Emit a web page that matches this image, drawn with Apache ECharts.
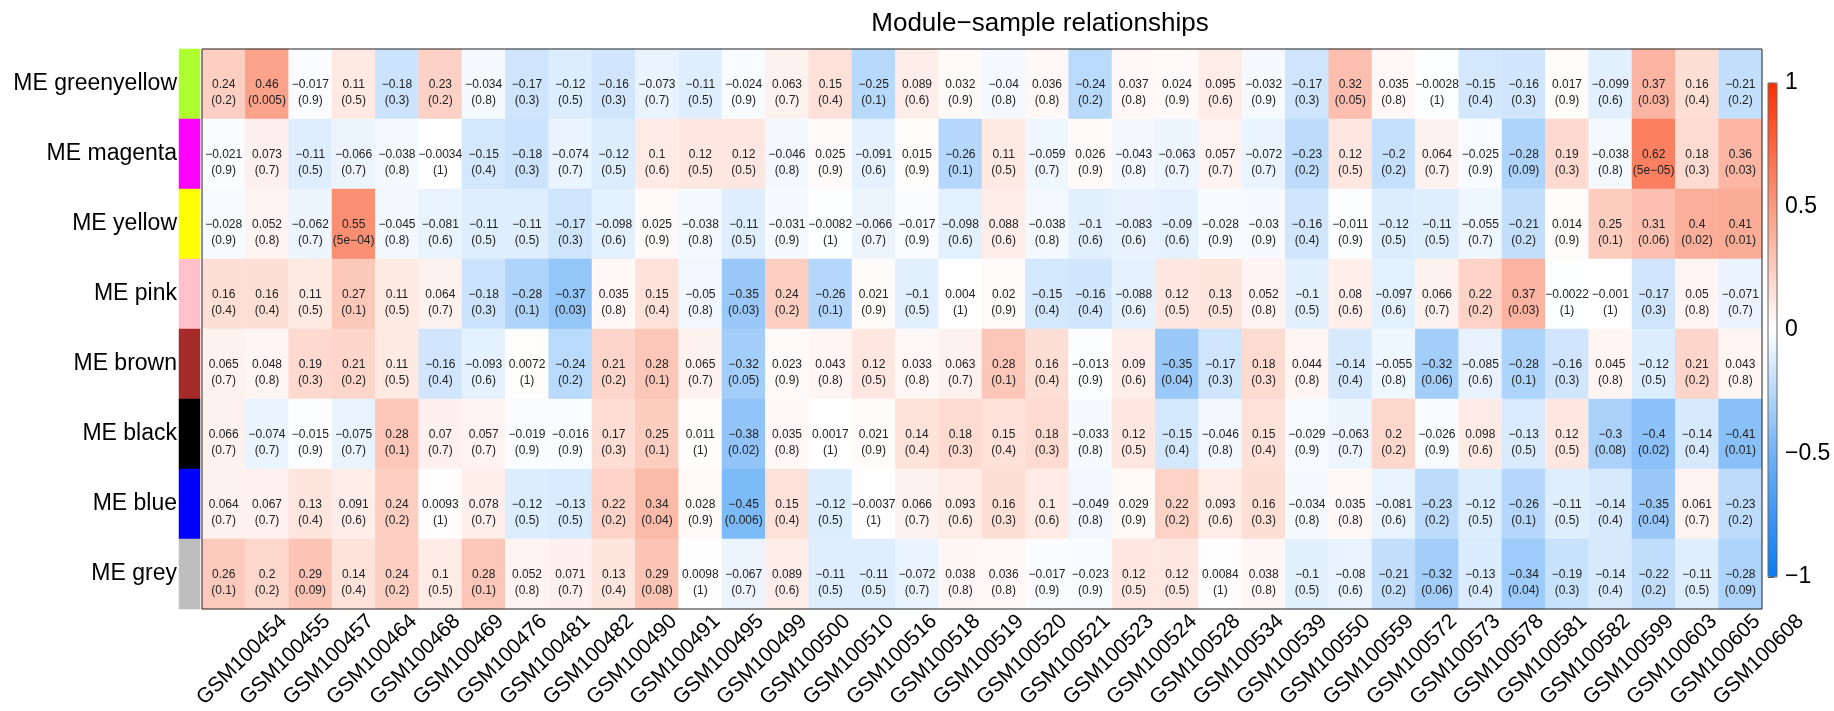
<!DOCTYPE html>
<html>
<head>
<meta charset="utf-8">
<script src="https://cdn.jsdelivr.net/npm/echarts@6/dist/echarts.min.js"></script>
<style>
html,body{margin:0;padding:0;background:#fff;}
#chart{width:1834px;height:711px;}
</style>
</head>
<body>
<div id="chart"></div>
<script>
const samples = ['GSM100454','GSM100455','GSM100457','GSM100464','GSM100468','GSM100469','GSM100476','GSM100481','GSM100482','GSM100490','GSM100491','GSM100495','GSM100499','GSM100500','GSM100510','GSM100516','GSM100518','GSM100519','GSM100520','GSM100521','GSM100523','GSM100524','GSM100528','GSM100534','GSM100539','GSM100550','GSM100559','GSM100572','GSM100573','GSM100578','GSM100581','GSM100582','GSM100599','GSM100603','GSM100605','GSM100608'];
const modules = ['ME greenyellow','ME magenta','ME yellow','ME pink','ME brown','ME black','ME blue','ME grey'];
const moduleColors = ['#ADFF2F','#FF00FF','#FFFF00','#FFC0CB','#A52A2A','#000000','#0000FF','#BEBEBE'];

const corGreenyellow = [0.24,0.46,-0.017,0.11,-0.18,0.23,-0.034,-0.17,-0.12,-0.16,-0.073,-0.11,-0.024,0.063,0.15,-0.25,0.089,0.032,-0.04,0.036,-0.24,0.037,0.024,0.095,-0.032,-0.17,0.32,0.035,-0.0028,-0.15,-0.16,0.017,-0.099,0.37,0.16,-0.21];
const pGreenyellow = ['0.2','0.005','0.9','0.5','0.3','0.2','0.8','0.3','0.5','0.3','0.7','0.5','0.9','0.7','0.4','0.1','0.6','0.9','0.8','0.8','0.2','0.8','0.9','0.6','0.9','0.3','0.05','0.8','1','0.4','0.3','0.9','0.6','0.03','0.4','0.2'];
const corMagenta = [-0.021,0.073,-0.11,-0.066,-0.038,-0.0034,-0.15,-0.18,-0.074,-0.12,0.1,0.12,0.12,-0.046,0.025,-0.091,0.015,-0.26,0.11,-0.059,0.026,-0.043,-0.063,0.057,-0.072,-0.23,0.12,-0.2,0.064,-0.025,-0.28,0.19,-0.038,0.62,0.18,0.36];
const pMagenta = ['0.9','0.7','0.5','0.7','0.8','1','0.4','0.3','0.7','0.5','0.6','0.5','0.5','0.8','0.9','0.6','0.9','0.1','0.5','0.7','0.9','0.8','0.7','0.7','0.7','0.2','0.5','0.2','0.7','0.9','0.09','0.3','0.8','5e-05','0.3','0.03'];
const corYellow = [-0.028,0.052,-0.062,0.55,-0.045,-0.081,-0.11,-0.11,-0.17,-0.098,0.025,-0.038,-0.11,-0.031,-0.0082,-0.066,-0.017,-0.098,0.088,-0.038,-0.1,-0.083,-0.09,-0.028,-0.03,-0.16,-0.011,-0.12,-0.11,-0.055,-0.21,0.014,0.25,0.31,0.4,0.41];
const pYellow = ['0.9','0.8','0.7','5e-04','0.8','0.6','0.5','0.5','0.3','0.6','0.9','0.8','0.5','0.9','1','0.7','0.9','0.6','0.6','0.8','0.6','0.6','0.6','0.9','0.9','0.4','0.9','0.5','0.5','0.7','0.2','0.9','0.1','0.06','0.02','0.01'];
const corPink = [0.16,0.16,0.11,0.27,0.11,0.064,-0.18,-0.28,-0.37,0.035,0.15,-0.05,-0.35,0.24,-0.26,0.021,-0.1,0.004,0.02,-0.15,-0.16,-0.088,0.12,0.13,0.052,-0.1,0.08,-0.097,0.066,0.22,0.37,-0.0022,-0.001,-0.17,0.05,-0.071];
const pPink = ['0.4','0.4','0.5','0.1','0.5','0.7','0.3','0.1','0.03','0.8','0.4','0.8','0.03','0.2','0.1','0.9','0.5','1','0.9','0.4','0.4','0.6','0.5','0.5','0.8','0.5','0.6','0.6','0.7','0.2','0.03','1','1','0.3','0.8','0.7'];
const corBrown = [0.065,0.048,0.19,0.21,0.11,-0.16,-0.093,0.0072,-0.24,0.21,0.28,0.065,-0.32,0.023,0.043,0.12,0.033,0.063,0.28,0.16,-0.013,0.09,-0.35,-0.17,0.18,0.044,-0.14,-0.055,-0.32,-0.085,-0.28,-0.16,0.045,-0.12,0.21,0.043];
const pBrown = ['0.7','0.8','0.3','0.2','0.5','0.4','0.6','1','0.2','0.2','0.1','0.7','0.05','0.9','0.8','0.5','0.8','0.7','0.1','0.4','0.9','0.6','0.04','0.3','0.3','0.8','0.4','0.8','0.06','0.6','0.1','0.3','0.8','0.5','0.2','0.8'];
const corBlack = [0.066,-0.074,-0.015,-0.075,0.28,0.07,0.057,-0.019,-0.016,0.17,0.25,0.011,-0.38,0.035,0.0017,0.021,0.14,0.18,0.15,0.18,-0.033,0.12,-0.15,-0.046,0.15,-0.029,-0.063,0.2,-0.026,0.098,-0.13,0.12,-0.3,-0.4,-0.14,-0.41];
const pBlack = ['0.7','0.7','0.9','0.7','0.1','0.7','0.7','0.9','0.9','0.3','0.1','1','0.02','0.8','1','0.9','0.4','0.3','0.4','0.3','0.8','0.5','0.4','0.8','0.4','0.9','0.7','0.2','0.9','0.6','0.5','0.5','0.08','0.02','0.4','0.01'];
const corBlue = [0.064,0.067,0.13,0.091,0.24,0.0093,0.078,-0.12,-0.13,0.22,0.34,0.028,-0.45,0.15,-0.12,-0.0037,0.066,0.093,0.16,0.1,-0.049,0.029,0.22,0.093,0.16,-0.034,0.035,-0.081,-0.23,-0.12,-0.26,-0.11,-0.14,-0.35,0.061,-0.23];
const pBlue = ['0.7','0.7','0.4','0.6','0.2','1','0.7','0.5','0.5','0.2','0.04','0.9','0.006','0.4','0.5','1','0.7','0.6','0.3','0.6','0.8','0.9','0.2','0.6','0.3','0.8','0.8','0.6','0.2','0.5','0.1','0.5','0.4','0.04','0.7','0.2'];
const corGrey = [0.26,0.2,0.29,0.14,0.24,0.1,0.28,0.052,0.071,0.13,0.29,0.0098,-0.067,0.089,-0.11,-0.11,-0.072,0.038,0.036,-0.017,-0.023,0.12,0.12,0.0084,0.038,-0.1,-0.08,-0.21,-0.32,-0.13,-0.34,-0.19,-0.14,-0.22,-0.11,-0.28];
const pGrey = ['0.1','0.2','0.09','0.4','0.2','0.5','0.1','0.8','0.7','0.4','0.08','1','0.7','0.6','0.5','0.5','0.7','0.8','0.8','0.9','0.9','0.5','0.5','1','0.8','0.5','0.6','0.2','0.06','0.4','0.04','0.3','0.4','0.2','0.5','0.09'];

const legendTicks = [-1, -0.5, 0, 0.5, 1];

const corRows = [corGreenyellow, corMagenta, corYellow, corPink, corBrown, corBlack, corBlue, corGrey];
const pRows = [pGreenyellow, pMagenta, pYellow, pPink, pBrown, pBlack, pBlue, pGrey];

const minus = s => String(s).replace(/-/g, '\u2212');

const heatData = [];
corRows.forEach((row, r) => row.forEach((v, c) => heatData.push([c, r, v])));
const stripData = moduleColors.map((col, r) => ({value: [0, r, r], itemStyle: {color: col}}));

const FONT = '"Liberation Sans", Arial, Helvetica, sans-serif';
const chart = echarts.init(document.getElementById('chart'), null, {renderer: 'canvas'});

const HM = {left: 202, top: 49, width: 1560, height: 560};

chart.setOption({
  animation: false,
  backgroundColor: '#ffffff',
  title: {
    text: 'Module\u2212sample relationships',
    left: 1035, top: 6, textAlign: 'center',
    textStyle: {fontFamily: FONT, fontSize: 26, fontWeight: 'normal', color: '#000'}
  },
  grid: [
    {left: HM.left, top: HM.top, width: HM.width, height: HM.height, show: true, borderColor: '#222', borderWidth: 1, backgroundColor: 'transparent', z: 5},
    {left: 179, top: HM.top, width: 21, height: HM.height},
    {left: HM.left + 60, top: HM.top, width: HM.width, height: HM.height},
    {left: 1768, top: 83, width: 9, height: 494, show: true, borderColor: '#666', borderWidth: 1, backgroundColor: 'transparent', z: 6}
  ],
  xAxis: [
    {type: 'category', gridIndex: 0, data: samples, axisLine: {show: false}, axisTick: {show: false}, axisLabel: {show: false}, splitLine: {show: false}},
    {type: 'category', gridIndex: 1, data: ['c'], show: false},
    {type: 'category', gridIndex: 2, data: samples, axisLine: {show: false}, axisTick: {show: false},
      axisLabel: {show: true, rotate: 45, interval: 0, margin: 10, fontSize: 21, fontFamily: FONT, color: '#000'}},
    {type: 'value', gridIndex: 3, show: false, min: 0, max: 1}
  ],
  yAxis: [
    {type: 'category', gridIndex: 0, data: modules, inverse: true, axisLine: {show: false}, axisTick: {show: false}, axisLabel: {show: false}},
    {type: 'category', gridIndex: 1, data: modules, inverse: true, axisLine: {show: false}, axisTick: {show: false},
      axisLabel: {show: true, margin: 2, fontSize: 23, fontFamily: FONT, color: '#000'}},
    {type: 'category', gridIndex: 2, data: modules, inverse: true, show: false},
    {type: 'value', gridIndex: 3, position: 'right', min: -1, max: 1, interval: 0.5,
      axisLine: {show: false}, splitLine: {show: false},
      axisTick: {show: true, length: 6, lineStyle: {color: '#555'}},
      axisLabel: {show: true, margin: 8, fontSize: 23, fontFamily: FONT, color: '#000', formatter: v => minus(v)}}
  ],
  visualMap: {
    type: 'continuous', min: legendTicks[0], max: legendTicks[legendTicks.length - 1], seriesIndex: 1,
    calculable: false, hoverLink: false, padding: 0,
    left: 1768, top: 83, itemWidth: 9, itemHeight: 494, orient: 'vertical',
    text: null, showLabel: false,
    inRange: {color: ['#0a7bf5', '#6fb2f7', '#ffffff', '#fa9a80', '#ff2e00']}
  },
  series: [
    {type: 'heatmap', xAxisIndex: 1, yAxisIndex: 1, data: stripData, label: {show: false}, itemStyle: {borderWidth: 0}},
    {type: 'heatmap', xAxisIndex: 0, yAxisIndex: 0, data: heatData,
      label: {
        show: true, fontSize: 12, lineHeight: 16, fontFamily: FONT, color: '#222', offset: [0, 9],
        formatter: p => minus(corRows[p.data[1]][p.data[0]]) + '\n(' + minus(pRows[p.data[1]][p.data[0]]) + ')'
      },
      itemStyle: {borderWidth: 0},
      emphasis: {disabled: true}
    }
  ]
});
</script>
</body>
</html>
